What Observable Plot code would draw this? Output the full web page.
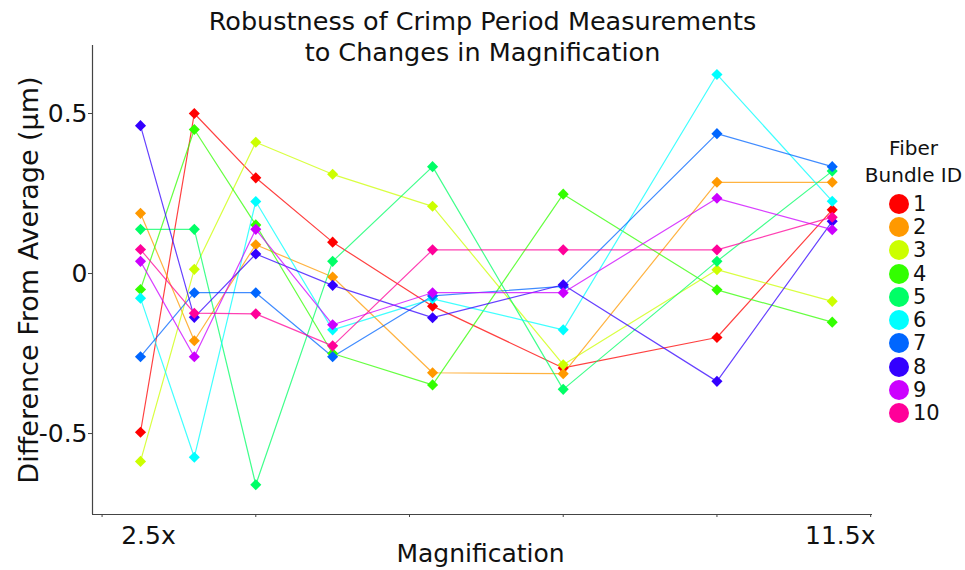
<!DOCTYPE html>
<html><head><meta charset="utf-8">
<script src="https://cdn.jsdelivr.net/npm/d3@7"></script>
<script src="https://cdn.jsdelivr.net/npm/@observablehq/plot@0.6"></script>
<style>
body{margin:0;background:#fff;font-family:"DejaVu Sans",sans-serif;color:#111;}
#wrap{position:relative;width:965px;height:570px;overflow:hidden;}
#title{position:absolute;left:0;width:965px;top:6px;text-align:center;font-size:25.5px;line-height:31px;}
#legend{position:absolute;left:862px;top:135px;width:103px;font-size:20px;}
#legend .lt{text-align:center;line-height:27px;}
#legend .row{display:flex;align-items:center;height:23.3px;padding-left:27px;}
#legend .sw{width:20px;height:20px;border-radius:50%;margin-right:4px;}
#legend .lab{font-size:21px;line-height:20px;}
</style></head><body>
<div id="wrap"><div id="chart"></div>
<div id="title">Robustness of Crimp Period Measurements<br>to Changes in Magnification</div>
<div id="legend"></div></div>
<script>
const magnifications = [2.5, 3.2, 4, 5, 6.3, 8, 10, 11.5];
const bundleIds = ["1","2","3","4","5","6","7","8","9","10"];
const bundleColors = ["#FF0000","#FF9900","#CCFF00","#33FF00","#00FF66","#00FFFF","#0066FF","#3300FF","#CC00FF","#FF0099"];
const bundle1  = [-0.496, 0.500, 0.299, 0.098, -0.102, -0.295, -0.200, 0.199];
const bundle2  = [0.188, -0.210, 0.090, -0.011, -0.310, -0.313, 0.285, 0.285];
const bundle3  = [-0.587, 0.013, 0.410, 0.310, 0.210, -0.285, 0.012, -0.087];
const bundle4  = [-0.050, 0.450, 0.152, -0.250, -0.348, 0.248, -0.051, -0.152];
const bundle5  = [0.138, 0.138, -0.660, 0.038, 0.334, -0.362, 0.038, 0.320];
const bundle6  = [-0.077, -0.574, 0.225, -0.176, -0.079, -0.176, 0.622, 0.226];
const bundle7  = [-0.260, -0.060, -0.060, -0.260, -0.070, -0.040, 0.437, 0.334];
const bundle8  = [0.462, -0.137, 0.061, -0.037, -0.138, -0.035, -0.337, 0.163];
const bundle9  = [0.038, -0.260, 0.138, -0.160, -0.060, -0.060, 0.235, 0.137];
const bundle10 = [0.075, -0.124, -0.126, -0.226, 0.074, 0.074, 0.074, 0.176];
const xDomain = [1.8755, 12.024];
const yDomain = [-0.753, 0.7125];
const xTickMarks = [2, 4, 6, 8, 10, 12];
const xTickLabels = [2.5, 11.5];
const yTicks = [-0.5, 0, 0.5];

const series = [bundle1,bundle2,bundle3,bundle4,bundle5,bundle6,bundle7,bundle8,bundle9,bundle10];
const data = [];
series.forEach((vals, i) => vals.forEach((v, j) => data.push({id: bundleIds[i], mag: magnifications[j], diff: v})));

const font = '"DejaVu Sans",sans-serif';
const chart = Plot.plot({
  width: 965, height: 570,
  marginLeft: 92, marginRight: 93, marginTop: 45, marginBottom: 56,
  style: {fontFamily: font, fontSize: "25px", color: "#111", background: "white"},
  x: {domain: xDomain},
  y: {domain: yDomain},
  color: {domain: bundleIds, range: bundleColors},
  marks: [
    Plot.ruleX([xDomain[0]], {stroke: "#444", strokeWidth: 1.2}),
    Plot.ruleY([yDomain[0]], {stroke: "#444", strokeWidth: 1.2}),
    Plot.axisY({ticks: yTicks, tickSize: 4, tickPadding: 1, tickFormat: d => d === 0 ? "0" : String(d), label: null, stroke: "#444"}),
    Plot.axisX({ticks: xTickMarks, tickSize: 3, tickFormat: () => "", label: null, stroke: "#444"}),
    Plot.axisX({ticks: xTickLabels, tickSize: 0, tickPadding: 12, dx: 8, tickFormat: d => d + "x", label: null}),
    Plot.text(["Magnification"], {frameAnchor: "bottom", lineAnchor: "middle", dy: 39, dx: -2, fontSize: 25, fill: "#111"}),
    Plot.text(["Difference From Average (µm)"], {frameAnchor: "left", textAnchor: "middle", lineAnchor: "middle", dx: -63, rotate: -90, fontSize: 27, fill: "#111"}),
    Plot.line(data, {x: "mag", y: "diff", z: "id", stroke: "id", strokeWidth: 1.2, strokeOpacity: 0.75}),
    Plot.dot(data, {x: "mag", y: "diff", fill: "id", symbol: "diamond2", r: 5})
  ]
});
document.getElementById("chart").appendChild(chart);

const leg = document.getElementById("legend");
leg.innerHTML = '<div class="lt">Fiber</div><div class="lt" style="margin-bottom:3px">Bundle ID</div>' +
  bundleIds.map((id, i) => `<div class="row"><span class="sw" style="background:${bundleColors[i]}"></span><span class="lab">${id}</span></div>`).join("");
</script>
</body></html>
